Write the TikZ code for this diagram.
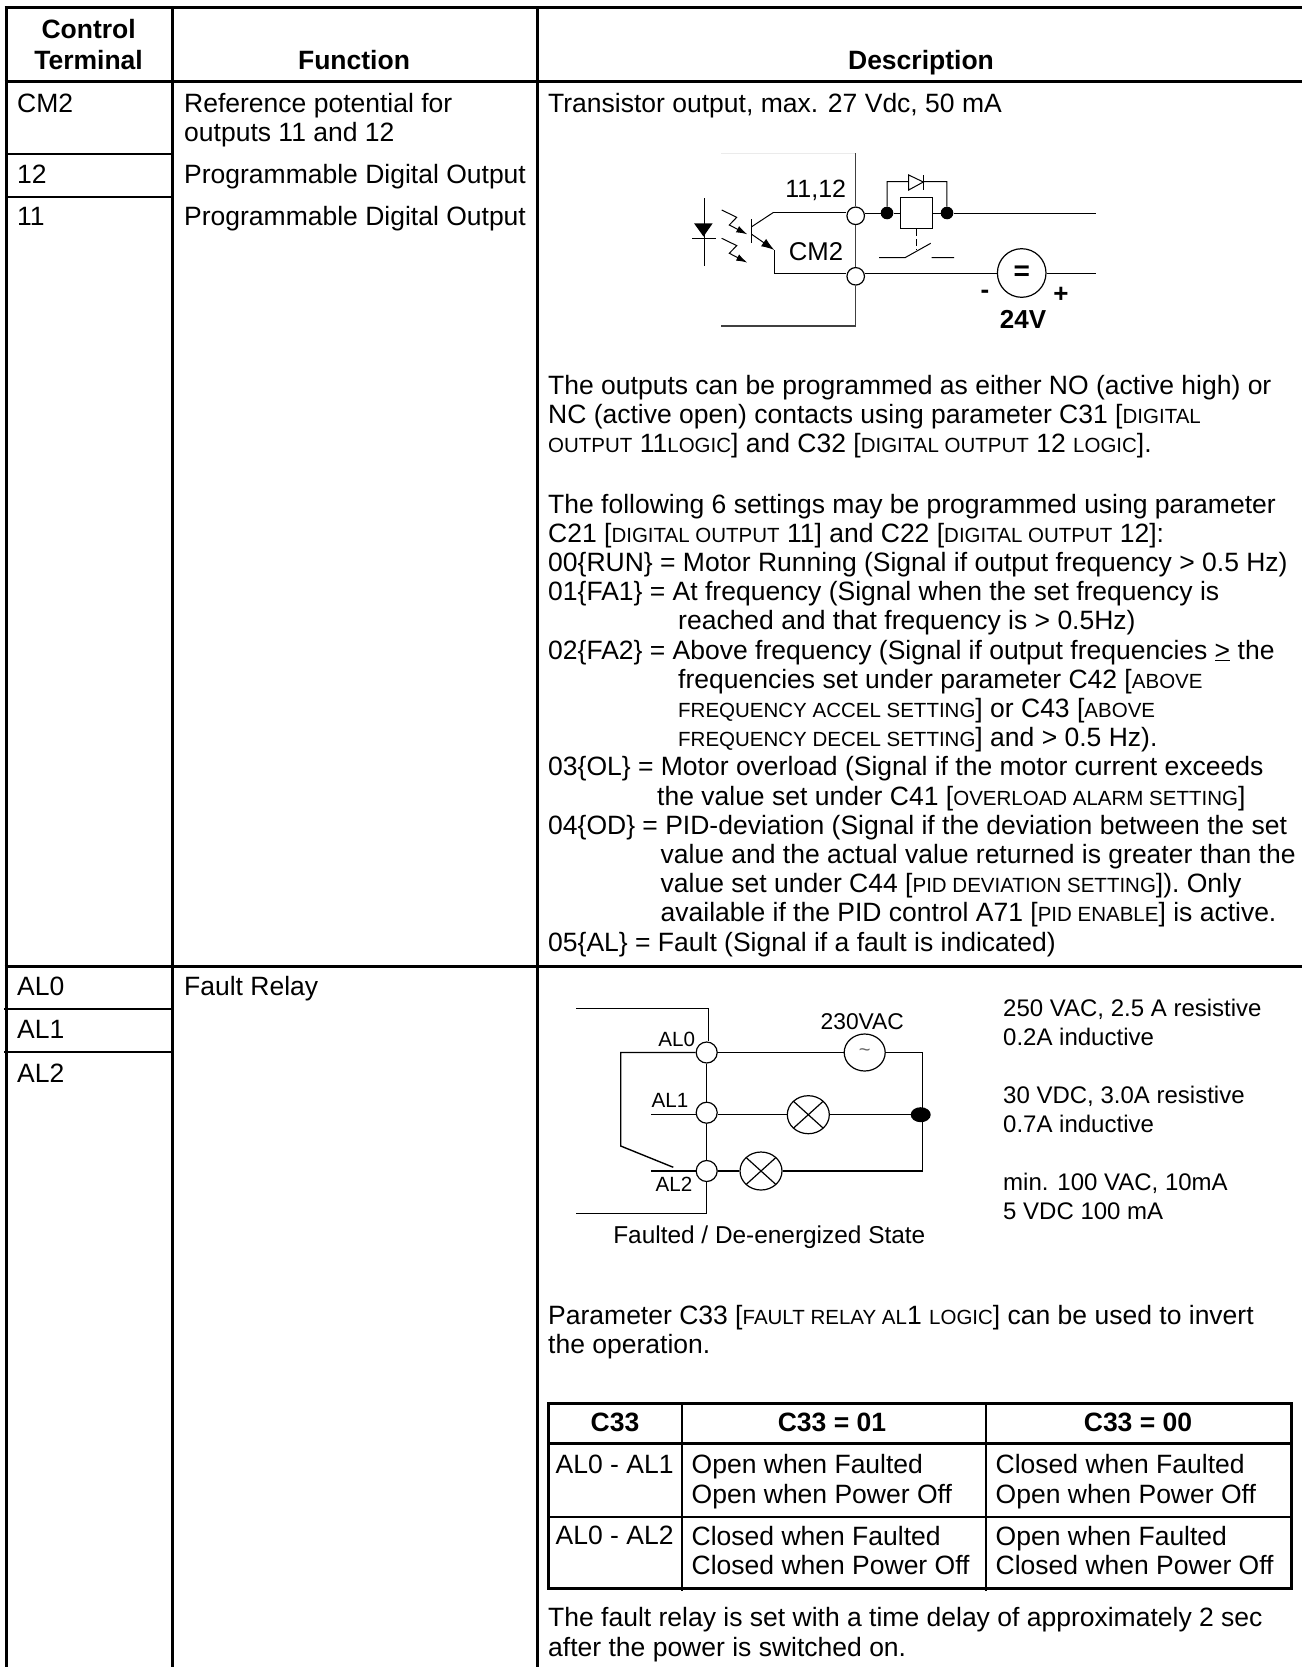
\documentclass[tikz,border=0pt]{standalone}
\usepackage{fontspec}
\setmainfont{Liberation Sans}
\usetikzlibrary{shapes.geometric,arrows.meta}
\newcommand{\scap}[1]{{\fontsize{20.5}{29.2}\selectfont #1}}
\tikzset{
	celltxt/.style={inner sep=0pt,anchor=base west,align=left,font=\fontsize{26.5}{29.2}\selectfont},
	headtxt/.style={inner sep=0pt,anchor=base,align=center,font=\bfseries\fontsize{26.5}{31}\selectfont},
	sidetxt/.style={celltxt,font=\fontsize{24}{29}\selectfont},
	wiretxt/.style={inner sep=0pt,anchor=base,font=\fontsize{#1}{#1}\selectfont},
	thickrule/.style={line width=3pt},
	thinrule/.style={line width=2pt},
	wire/.style={line width=1pt},
	terminal/.style={circle,draw,fill=white,inner sep=0pt,minimum size=#1,line width=1.2pt},
	blob/.style={ellipse,fill=black,inner sep=0pt,minimum width=#1},
	lampnode/.style={ellipse,draw,fill=white,inner sep=0pt,line width=1.2pt,minimum width=42pt,minimum height=38pt,
		path picture={\draw[line width=1.2pt] (path picture bounding box.north west) -- (path picture bounding box.south east)
			(path picture bounding box.north east) -- (path picture bounding box.south west);}}
}

\begin{document}
\begin{tikzpicture}[x=1pt,y=-1pt,black]
	\useasboundingbox (0,0) rectangle (1302,1667);
	% table rules
	\draw[thickrule] (4.5,7.5) -- (1302,7.5) (4.5,82) -- (1302,82) (4.5,966) -- (1302,966);
	\draw[thickrule] (6,7.5) -- (6,1667) (172,7.5) -- (172,1667) (537.5,7.5) -- (537.5,1667);
	\draw[thinrule] (6,154) -- (172,154) (6,197) -- (172,197) (4,1009) -- (172,1009) (4,1052) -- (172,1052);
	% header, multi-line nodes sit on their last baseline
	\node[headtxt] (hterm) at (88.6,70) {Control\\Terminal};
	\node[headtxt] (hfunc) at (354,70) {Function};
	\node[headtxt] (hdesc) at (921,70) {Description};
	% left columns
	\node[celltxt] (cmtwo) at (17,113) {CM2};
	\node[celltxt] (reffn) at (184,142) {Reference potential for\\outputs 11 and 12};
	\node[celltxt] (ttwelve) at (17,183) {12};
	\node[celltxt] (ftwelve) at (184,183) {Programmable Digital Output};
	\node[celltxt] (televen) at (17,225) {11};
	\node[celltxt] (feleven) at (184,225) {Programmable Digital Output};
	\node[celltxt] (alzero) at (17,995) {AL0};
	\node[celltxt] (falrelay) at (184,995) {Fault Relay};
	\node[celltxt] (alone) at (17,1038) {AL1};
	\node[celltxt] (altwo) at (17,1082) {AL2};
	% description text
	\node[celltxt] (trans) at (548,113) {Transistor output, max. 27 Vdc, 50 mA};
	\node[celltxt] (logic) at (548,452.4) {The outputs can be programmed as either NO (active high) or\\
		NC (active open) contacts using parameter C31 [\scap{DIGITAL}\\
		\scap{OUTPUT} 11\scap{LOGIC}] and C32 [\scap{DIGITAL OUTPUT} 12 \scap{LOGIC}].};
	\node[celltxt] (settings) at (548,951) {The following 6 settings may be programmed using parameter\\
		C21 [\scap{DIGITAL OUTPUT} 11] and C22 [\scap{DIGITAL OUTPUT} 12]:\\
		00\{RUN\} = Motor Running (Signal if output frequency > 0.5 Hz)\\
		01\{FA1\} = At frequency (Signal when the set frequency is\\
		\hspace*{130pt}reached and that frequency is > 0.5Hz)\\
		02\{FA2\} = Above frequency (Signal if output frequencies \underline{>} the\\
		\hspace*{130pt}frequencies set under parameter C42 [\scap{ABOVE}\\
		\hspace*{130pt}\scap{FREQUENCY ACCEL SETTING}] or C43 [\scap{ABOVE}\\
		\hspace*{130pt}\scap{FREQUENCY DECEL SETTING}] and > 0.5 Hz).\\
		03\{OL\} = Motor overload (Signal if the motor current exceeds\\
		\hspace*{109pt}the value set under C41 [\scap{OVERLOAD ALARM SETTING}]\\
		04\{OD\} = PID-deviation (Signal if the deviation between the set\\
		\hspace*{112.5pt}value and the actual value returned is greater than the\\
		\hspace*{112.5pt}value set under C44 [\scap{PID DEVIATION SETTING}]). Only\\
		\hspace*{112.5pt}available if the PID control A71 [\scap{PID ENABLE}] is active.\\
		05\{AL\} = Fault (Signal if a fault is indicated)};
	\node[sidetxt] (ratea) at (1003,1045) {250 VAC, 2.5 A resistive\\0.2A inductive};
	\node[sidetxt] (rateb) at (1003,1132) {30 VDC, 3.0A resistive\\0.7A inductive};
	\node[sidetxt] (ratec) at (1003,1219) {min. 100 VAC, 10mA\\5 VDC 100 mA};
	\node[celltxt] (invert) at (548,1353.5) {Parameter C33 [\scap{FAULT RELAY AL}1 \scap{LOGIC}] can be used to invert\\the operation.};
	\node[celltxt] (delay) at (548,1656) {The fault relay is set with a time delay of approximately 2 sec\\after the power is switched on.};
	% small table
	\draw[thickrule] (548,1403) rectangle (1291.5,1588) (548,1443) -- (1291.5,1443);
	\draw[thinrule] (548,1517) -- (1291.5,1517) (682,1403) -- (682,1591) (986,1403) -- (986,1591);
	\node[headtxt] (hcthree) at (615,1431) {C33};
	\node[headtxt] (hcone) at (832,1431) {C33 = 01};
	\node[headtxt] (hczero) at (1138,1431) {C33 = 00};
	\node[celltxt] (rowa) at (555.5,1473) {AL0 - AL1};
	\node[celltxt] (rowaone) at (691.5,1503) {Open when Faulted\\Open when Power Off};
	\node[celltxt] (rowazero) at (995.5,1503) {Closed when Faulted\\Open when Power Off};
	\node[celltxt] (rowb) at (555.5,1544) {AL0 - AL2};
	\node[celltxt] (rowbone) at (691.5,1574.5) {Closed when Faulted\\Closed when Power Off};
	\node[celltxt] (rowbzero) at (995.5,1574.5) {Open when Faulted\\Closed when Power Off};
	% transistor output circuit
	\draw[line width=0.5pt,black!8] (721,153) -- (856,153);
	\node[terminal=17.5pt] (tout) at (855.7,215.8) {};
	\node[terminal=17.5pt] (tcom) at (855.7,276.3) {};
	\coordinate (ctop) at (855.7,153);
	\coordinate (cbot) at (855.7,326);
	\coordinate (cbotl) at (721,326);
	\draw[line width=1.4pt,black!75] (ctop) -- (tout) -- (tcom) -- (cbot) -- (cbotl);
	\coordinate (ccol) at (773.3,212.5);
	\coordinate (cemi) at (774.3,250);
	\coordinate (cemib) at (774.3,273);
	\node[blob=12.6pt,minimum height=12.6pt] (dotl) at (887,213) {};
	\node[blob=12.6pt,minimum height=12.6pt] (dotr) at (947,213) {};
	\node[draw,inner sep=0pt,minimum width=31.6pt,minimum height=30.6pt,line width=1.2pt] (relay) at (916.5,213) {};
	\coordinate (coutr) at (1095.7,213);
	\draw[wire] (ccol) -- (ccol -| tout.west) (tout.east |- dotl) -- (dotl) -- (relay) -- (dotr) -- (coutr);
	\draw[wire] (dotl) -- (887,181.7) -- (946.8,181.7) -- (dotr);
	\draw[line width=1pt,fill=white] (908.7,175) -- (923.3,182) -- (908.7,190) -- cycle;
	\draw[line width=1pt] (923.3,175) -- (923.3,190);
	\draw[line width=1pt,dash pattern=on 7pt off 3pt] (relay.south) -- (916.5,250);
	\draw[line width=1pt] (879,257.7) -- (905,257.7) -- (930.7,243.3) (931.7,257.7) -- (954,257.7);
	\node[terminal=48.6pt,font=\bfseries\fontsize{28}{28}\selectfont] (volt) at (1021.7,273) {=};
	\coordinate (cvoltr) at (1095.7,273);
	\draw[wire] (cemib) -- (cemib -| tcom.west) (tcom.east |- volt) -- (volt) -- (cvoltr);
	\draw[wire] (751.7,219.3) -- (751.7,242.7);
	\draw[line width=1pt] (751.7,226.7) -- (ccol);
	\draw[line width=1pt,-{Latex[length=13pt,width=9pt]}] (751.7,234.3) -- (cemi);
	\draw[wire] (cemi) -- (cemib);
	\draw[line width=1pt] (704.3,198.3) -- (704.3,265.7) (692.3,238.3) -- (716,238.3);
	\fill (694,223.3) -- (712.7,223.3) -- (703.5,236.5) -- cycle;
	\foreach \dy in {0,28.3}
		\draw[line width=1pt,-{Latex[length=11pt,width=7pt]},yshift=-\dy pt] (721.7,210) -- (736.7,217.3) -- (729.3,225) -- (747.3,234.3);
	\node[wiretxt=25] (lbout) at (815.7,197.7) {11,12};
	\node[wiretxt=25.7] (lbcom) at (816,260) {CM2};
	\node[wiretxt=26,font=\bfseries\fontsize{26}{26}\selectfont] (lbminus) at (985,298) {-};
	\node[wiretxt=26,font=\bfseries\fontsize{26}{26}\selectfont] (lbplus) at (1061,302) {+};
	\node[wiretxt=26,font=\bfseries\fontsize{26}{26}\selectfont] (lbvolt) at (1023,328) {24V};
	% relay circuit
	\node[terminal=21pt] (tal) at (706.7,1052.5) {};
	\node[terminal=21pt] (taa) at (706.7,1112.7) {};
	\node[terminal=21pt] (tab) at (706.7,1171) {};
	\node[ellipse,draw,fill=white,inner sep=0pt,line width=1.2pt,minimum width=41pt,minimum height=37pt,text=black!60,font=\fontsize{20}{20}\selectfont] (acsrc) at (864.7,1052.5) {\textasciitilde};
	\node[lampnode] (lampa) at (808.3,1114.7) {};
	\node[lampnode] (lampb) at (761,1171) {};
	\node[blob=20pt,minimum height=15pt] (dotal) at (920.7,1114.7) {};
	\coordinate (altop) at (576,1008.3);
	\coordinate (altopr) at (708.3,1008.3);
	\coordinate (albot) at (706.7,1213.3);
	\coordinate (albotl) at (576,1213.3);
	\coordinate (cblade) at (620.7,1052.5);
	\coordinate (cbladeb) at (620.7,1146);
	\coordinate (cbladee) at (673.3,1167.3);
	\coordinate (cstuba) at (651,1114.7);
	\coordinate (cstubb) at (651,1171);
	\coordinate (cacr) at (922.7,1052.5);
	\coordinate (clampr) at (922.7,1171);
	\draw[line width=1.4pt] (altop) -- (altopr) -- (altopr |- tal.north);
	\draw[line width=1.4pt] (tal) -- (taa) -- (tab) -- (albot) -- (albotl);
	\draw[line width=1.4pt] (tal) -- (cblade) -- (cbladeb) -- (cbladee);
	\draw[line width=1.4pt] (cstuba) -- (cstuba -| taa.west) (cstubb) -- (tab);
	\draw[line width=1.4pt] (tal) -- (acsrc) -- (cacr) -- (clampr) -- (lampb) -- (tab);
	\draw[line width=1.4pt] (taa.east |- lampa) -- (lampa) -- (dotal);
	\node[wiretxt=20.6] (lbalz) at (676.7,1046.7) {AL0};
	\node[wiretxt=20.6] (lbala) at (670,1107.7) {AL1};
	\node[wiretxt=20.6] (lbalb) at (674,1191.7) {AL2};
	\node[wiretxt=22.8] (lbac) at (862.3,1029.3) {230VAC};
	\node[wiretxt=24.4] (lbstate) at (769.3,1243.3) {Faulted / De-energized State};
\end{tikzpicture}
\end{document}
